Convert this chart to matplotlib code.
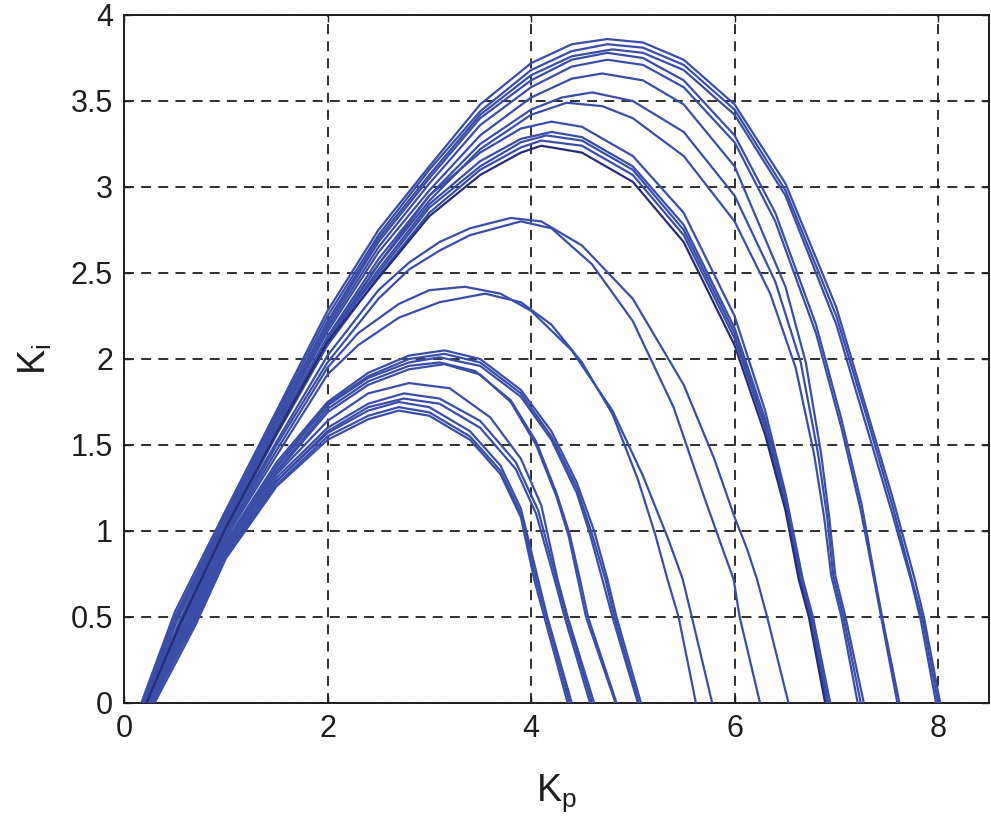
import matplotlib
matplotlib.use('Agg')
import matplotlib.pyplot as plt
from matplotlib.ticker import FuncFormatter

plt.rcParams['font.family'] = ['Liberation Sans', 'DejaVu Sans']
plt.rcParams['mathtext.default'] = 'regular'

# stability boundary curves (Kp, Ki)
# top family, peak near Kp = 4.7
t1 = [(0.17, 0), (0.5, 0.53), (1.0, 1.12), (1.5, 1.7), (2.0, 2.28), (2.5, 2.75), (3.0, 3.12), (3.5, 3.48),
      (4.0, 3.72), (4.4, 3.83), (4.75, 3.86), (5.1, 3.84), (5.5, 3.74), (6.0, 3.48), (6.5, 3.02), (7.0, 2.3),
      (7.3, 1.7), (7.55, 1.2), (7.77, 0.72), (7.86, 0.5), (8.02, 0)]
t2 = [(0.18, 0), (0.5, 0.5), (1.0, 1.1), (1.5, 1.68), (2.0, 2.25), (2.5, 2.72), (3.0, 3.1), (3.5, 3.44),
      (4.0, 3.68), (4.4, 3.79), (4.75, 3.83), (5.1, 3.81), (5.5, 3.71), (6.0, 3.45), (6.5, 2.98), (7.0, 2.25),
      (7.3, 1.66), (7.55, 1.15), (7.75, 0.7), (7.85, 0.48), (8.0, 0)]
t3 = [(0.2, 0), (0.52, 0.5), (1.0, 1.08), (1.5, 1.66), (2.0, 2.22), (2.5, 2.7), (3.0, 3.07), (3.5, 3.42),
      (4.0, 3.65), (4.4, 3.76), (4.8, 3.8), (5.1, 3.78), (5.5, 3.68), (6.0, 3.42), (6.5, 2.95), (7.0, 2.2),
      (7.3, 1.6), (7.55, 1.1), (7.74, 0.7), (7.83, 0.48), (7.98, 0)]
t4 = [(0.19, 0), (0.5, 0.5), (1.0, 1.08), (1.5, 1.65), (2.0, 2.2), (2.5, 2.68), (3.0, 3.05), (3.5, 3.4),
      (4.0, 3.62), (4.4, 3.74), (4.75, 3.78), (5.1, 3.75), (5.5, 3.62), (6.0, 3.3), (6.4, 2.85), (6.8, 2.2),
      (7.05, 1.65), (7.25, 1.15), (7.38, 0.72), (7.45, 0.5), (7.62, 0)]
t5 = [(0.21, 0), (0.52, 0.48), (1.0, 1.06), (1.5, 1.63), (2.0, 2.18), (2.5, 2.65), (3.0, 3.02), (3.5, 3.36),
      (4.0, 3.58), (4.4, 3.7), (4.75, 3.74), (5.1, 3.71), (5.5, 3.58), (6.0, 3.26), (6.4, 2.8), (6.8, 2.15),
      (7.05, 1.6), (7.24, 1.12), (7.37, 0.72), (7.44, 0.5), (7.6, 0)]
t6 = [(0.2, 0), (0.52, 0.48), (1.0, 1.05), (1.5, 1.62), (2.0, 2.16), (2.5, 2.62), (3.0, 2.98), (3.5, 3.3),
      (4.0, 3.52), (4.4, 3.63), (4.7, 3.66), (5.1, 3.62), (5.5, 3.48), (6.0, 3.12), (6.5, 2.42), (6.7, 1.98),
      (6.85, 1.45), (6.93, 1.08), (6.99, 0.74), (7.09, 0.5), (7.27, 0)]
t7 = [(0.22, 0), (0.55, 0.48), (1.0, 1.04), (1.5, 1.6), (2.0, 2.13), (2.5, 2.58), (3.0, 2.95), (3.5, 3.25),
      (4.0, 3.45), (4.3, 3.52), (4.6, 3.55), (5.0, 3.5), (5.5, 3.32), (6.0, 2.95), (6.4, 2.45), (6.65, 1.98),
      (6.82, 1.45), (6.91, 1.08), (6.97, 0.74), (7.07, 0.5), (7.24, 0)]
t8 = [(0.2, 0), (0.55, 0.47), (1.0, 1.03), (1.5, 1.58), (2.0, 2.1), (2.5, 2.55), (3.0, 2.92), (3.5, 3.22),
      (4.0, 3.42), (4.35, 3.49), (4.7, 3.47), (5.0, 3.4), (5.5, 3.18), (6.0, 2.8), (6.35, 2.38), (6.6, 1.95),
      (6.78, 1.45), (6.88, 1.08), (6.95, 0.74), (7.05, 0.5), (7.21, 0)]

# middle family, peak near Kp = 4.15
m1 = [(0.22, 0), (0.55, 0.48), (1.0, 1.04), (1.5, 1.6), (2.0, 2.12), (2.5, 2.55), (3.0, 2.95), (3.5, 3.2),
      (3.9, 3.34), (4.2, 3.38), (4.5, 3.35), (5.0, 3.18), (5.5, 2.85), (6.0, 2.25), (6.3, 1.7), (6.5, 1.22),
      (6.67, 0.72), (6.77, 0.5), (6.94, 0)]
m2 = [(0.24, 0), (0.57, 0.48), (1.0, 1.02), (1.5, 1.58), (2.0, 2.1), (2.5, 2.52), (3.0, 2.9), (3.5, 3.15),
      (3.9, 3.28), (4.2, 3.32), (4.5, 3.29), (5.0, 3.12), (5.5, 2.78), (6.0, 2.18), (6.3, 1.65), (6.5, 1.2),
      (6.66, 0.72), (6.76, 0.5), (6.92, 0)]
m3 = [(0.2, 0), (0.55, 0.47), (1.0, 1.03), (1.5, 1.59), (2.0, 2.11), (2.5, 2.5), (3.0, 2.88), (3.5, 3.12),
      (3.9, 3.26), (4.15, 3.3), (4.5, 3.27), (5.0, 3.1), (5.5, 2.75), (6.0, 2.15), (6.3, 1.62), (6.5, 1.17),
      (6.65, 0.72), (6.75, 0.5), (6.91, 0)]
m4 = [(0.26, 0), (0.58, 0.47), (1.0, 1.0), (1.5, 1.56), (2.0, 2.08), (2.5, 2.48), (3.0, 2.85), (3.5, 3.1),
      (3.9, 3.23), (4.1, 3.27), (4.5, 3.24), (5.0, 3.07), (5.5, 2.72), (6.0, 2.12), (6.3, 1.6), (6.5, 1.15),
      (6.64, 0.72), (6.74, 0.5), (6.9, 0)]
m5 = [(0.22, 0), (0.56, 0.47), (1.0, 1.02), (1.5, 1.57), (2.0, 2.1), (2.5, 2.47), (3.0, 2.83), (3.5, 3.07),
      (3.9, 3.2), (4.1, 3.24), (4.5, 3.2), (5.0, 3.03), (5.5, 2.68), (6.0, 2.08), (6.3, 1.56), (6.5, 1.12),
      (6.63, 0.72), (6.73, 0.5), (6.89, 0)]

# pair peaking near 2.8
p1 = [(0.24, 0), (0.6, 0.47), (1.0, 1.0), (1.5, 1.52), (2.0, 2.02), (2.5, 2.4), (2.8, 2.56), (3.1, 2.68),
      (3.4, 2.76), (3.8, 2.82), (4.1, 2.8), (4.5, 2.66), (5.0, 2.35), (5.5, 1.85), (5.8, 1.42), (6.0, 1.08),
      (6.12, 0.9), (6.22, 0.72), (6.32, 0.5), (6.53, 0)]
p2 = [(0.25, 0), (0.6, 0.46), (1.0, 0.98), (1.5, 1.5), (2.0, 1.98), (2.5, 2.35), (2.8, 2.52), (3.1, 2.63),
      (3.4, 2.72), (3.9, 2.8), (4.2, 2.76), (4.6, 2.55), (5.0, 2.22), (5.4, 1.72), (5.7, 1.2), (5.88, 0.9),
      (5.99, 0.72), (6.05, 0.5), (6.25, 0)]

# pair peaking near 2.4
q1 = [(0.25, 0), (0.6, 0.45), (1.0, 0.97), (1.5, 1.47), (2.0, 1.95), (2.3, 2.15), (2.7, 2.32), (3.0, 2.4),
      (3.35, 2.42), (3.7, 2.38), (4.0, 2.28), (4.4, 2.05), (4.8, 1.7), (5.1, 1.32), (5.35, 0.95), (5.49, 0.72),
      (5.58, 0.5), (5.78, 0)]
q2 = [(0.23, 0), (0.6, 0.45), (1.0, 0.96), (1.5, 1.44), (2.0, 1.91), (2.3, 2.08), (2.7, 2.24), (3.1, 2.33),
      (3.55, 2.38), (3.9, 2.33), (4.2, 2.2), (4.5, 1.98), (4.8, 1.68), (5.05, 1.3), (5.22, 0.98), (5.34, 0.72),
      (5.45, 0.5), (5.62, 0)]

# family peaking near 2.0
l1 = [(0.26, 0), (0.62, 0.47), (1.0, 0.94), (1.5, 1.4), (2.0, 1.75), (2.4, 1.92), (2.8, 2.02), (3.15, 2.05),
      (3.5, 2.0), (3.9, 1.82), (4.2, 1.58), (4.45, 1.28), (4.62, 1.0), (4.75, 0.72), (4.84, 0.5), (5.08, 0)]
l2 = [(0.24, 0), (0.62, 0.46), (1.0, 0.93), (1.5, 1.38), (2.0, 1.74), (2.4, 1.9), (2.8, 2.0), (3.15, 2.03),
      (3.5, 1.98), (3.9, 1.8), (4.2, 1.55), (4.45, 1.25), (4.6, 0.98), (4.73, 0.72), (4.82, 0.5), (5.06, 0)]
l3 = [(0.28, 0), (0.64, 0.46), (1.0, 0.92), (1.5, 1.37), (2.0, 1.73), (2.4, 1.89), (2.8, 1.98), (3.1, 2.01),
      (3.5, 1.96), (3.9, 1.78), (4.2, 1.53), (4.45, 1.22), (4.58, 0.98), (4.7, 0.72), (4.8, 0.5), (5.05, 0)]
l4 = [(0.25, 0), (0.63, 0.46), (1.0, 0.91), (1.5, 1.35), (2.0, 1.71), (2.4, 1.87), (2.8, 1.96), (3.1, 1.98),
      (3.45, 1.93), (3.8, 1.76), (4.05, 1.52), (4.25, 1.22), (4.38, 0.98), (4.48, 0.72), (4.56, 0.5), (4.84, 0)]
l5 = [(0.27, 0), (0.65, 0.46), (1.0, 0.9), (1.5, 1.34), (2.0, 1.69), (2.4, 1.85), (2.8, 1.94), (3.15, 1.97),
      (3.5, 1.91), (3.8, 1.75), (4.05, 1.5), (4.25, 1.2), (4.37, 0.97), (4.46, 0.72), (4.54, 0.5), (4.83, 0)]

# lowest family, peak near Kp = 2.7
b1 = [(0.26, 0), (0.64, 0.46), (1.0, 0.89), (1.5, 1.33), (2.0, 1.64), (2.4, 1.8), (2.8, 1.86), (3.2, 1.83),
      (3.6, 1.66), (3.9, 1.42), (4.1, 1.15), (4.26, 0.72), (4.36, 0.5), (4.62, 0)]
b2 = [(0.25, 0), (0.65, 0.46), (1.0, 0.88), (1.5, 1.31), (2.0, 1.6), (2.4, 1.74), (2.75, 1.8), (3.1, 1.77),
      (3.5, 1.64), (3.85, 1.4), (4.07, 1.12), (4.25, 0.72), (4.35, 0.5), (4.6, 0)]
b3 = [(0.28, 0), (0.68, 0.46), (1.0, 0.87), (1.5, 1.29), (2.0, 1.58), (2.4, 1.72), (2.75, 1.77), (3.1, 1.74),
      (3.5, 1.6), (3.85, 1.36), (4.05, 1.1), (4.23, 0.72), (4.33, 0.5), (4.58, 0)]
b4 = [(0.26, 0), (0.66, 0.45), (1.0, 0.86), (1.5, 1.29), (2.0, 1.57), (2.4, 1.7), (2.7, 1.75), (3.0, 1.72),
      (3.4, 1.58), (3.7, 1.38), (3.9, 1.13), (4.06, 0.74), (4.16, 0.5), (4.4, 0)]
b5 = [(0.27, 0), (0.68, 0.45), (1.0, 0.85), (1.5, 1.27), (2.0, 1.55), (2.4, 1.67), (2.7, 1.72), (3.0, 1.69),
      (3.4, 1.55), (3.7, 1.35), (3.9, 1.1), (4.05, 0.72), (4.15, 0.5), (4.38, 0)]
b6 = [(0.3, 0), (0.7, 0.45), (1.0, 0.84), (1.5, 1.26), (2.0, 1.53), (2.4, 1.65), (2.7, 1.7), (3.0, 1.67),
      (3.4, 1.53), (3.7, 1.33), (3.9, 1.08), (4.03, 0.72), (4.13, 0.5), (4.36, 0)]

curves = [t1, t2, t3, t4, t5, t6, t7, t8, m1, m2, m3, m4, p1, p2, q1, q2,
          l1, l2, l3, l4, l5, b1, b2, b3, b4, b5, b6, m5]

x_ticks = [0, 2, 4, 6, 8]
y_ticks = [0, 0.5, 1, 1.5, 2, 2.5, 3, 3.5, 4]

fig = plt.figure(figsize=(9.91, 8.18), dpi=100)
ax = fig.add_axes([124 / 991, 115 / 818, 865 / 991, 688 / 818])

for c in curves:
    kp = [p[0] for p in c]
    ki = [p[1] for p in c]
    col = '#252d78' if c is m5 else '#3a4ea8'
    ax.plot(kp, ki, color=col, linewidth=1.6, zorder=3)

ax.set_xlim(0, 8.5)
ax.set_ylim(0, 4)
ax.set_xticks(x_ticks)
ax.set_yticks(y_ticks)
ax.yaxis.set_major_formatter(FuncFormatter(lambda v, pos: '%g' % v))

ax.grid(True, color='#1e1e1e', linestyle=(0, (5.5, 4)), linewidth=1.3, zorder=1)
ax.set_axisbelow(True)

for s in ax.spines.values():
    s.set_linewidth(1.4)
    s.set_color('#1e1e1e')

ax.tick_params(direction='in', length=5, width=1.0, labelsize=22, pad=8,
               top=True, right=True, colors='#1e1e1e')

ax.set_xlabel('K$_p$', fontsize=27, labelpad=20, color='#1e1e1e')
ax.set_ylabel('K$_i$', fontsize=27, labelpad=12, color='#1e1e1e')

fig.savefig('out.png', dpi=100)
